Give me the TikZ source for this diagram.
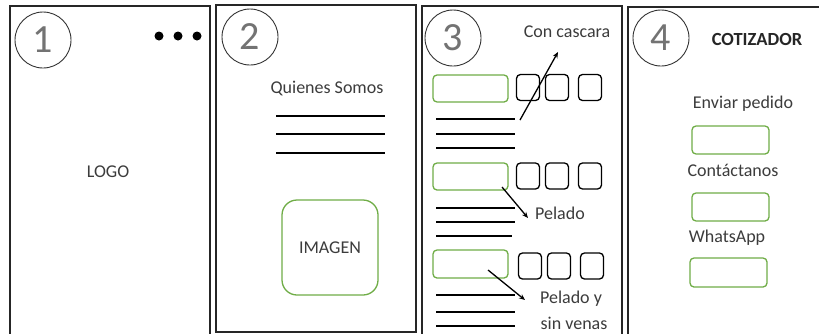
\documentclass[tikz,border=0pt]{standalone}
\usepackage{fontspec}
\setmainfont{Carlito}
\usetikzlibrary{arrows.meta}
\definecolor{okgreen}{RGB}{112,173,71}
\definecolor{txt}{RGB}{60,60,60}
\begin{document}
\begin{tikzpicture}[x=1pt,y=-1pt,
 panel/.style={draw=black!85, line width=1.5pt},
 num/.style={circle, draw=black!80, line width=0.9pt, minimum size=56pt, inner sep=0pt, font=\fontsize{40}{40}\selectfont, text=black!55},
 lbl/.style={font=\fontsize{18}{20}\selectfont, text=txt, inner sep=0pt},
 gbox/.style={draw=okgreen, line width=1.3pt, rounded corners=4pt, inner sep=0pt},
 sq/.style={draw=black, line width=1.3pt, rounded corners=4pt, inner sep=0pt, minimum width=23pt, minimum height=26pt},
 rule/.style={line width=1.3pt},
 dotn/.style={circle, fill=black, inner sep=0pt, minimum size=9pt},
 arr/.style={line width=1.3pt, -{Stealth[length=6pt,width=5pt]}}]
\useasboundingbox (0,0) rectangle (819,333);
\clip (0,0) rectangle (819,333);
\fill[white] (0,0) rectangle (819,333);

% panels
\draw[panel] (10,345) -- (10,6) -- (210,6) -- (210,345);
\draw[panel] (216,5) rectangle (416,332);
\draw[panel] (422,345) -- (422,6) -- (622,6) -- (622,345);
\draw[panel] (628,345) -- (628,7) -- (830,7);

% numbered circles
\node[num] (n1) at (43,40) {1};
\node[num] (n2) at (250,37) {2};
\node[num] (n3) at (453,38) {3};
\node[num] (n4) at (661,38) {4};

% panel 1
\node[dotn] (d1) at (159,36) {};
\node[dotn] (d2) at (178,36) {};
\node[dotn] (d3) at (197,36) {};
\node[lbl] (logo) at (108,172) {LOGO};

% panel 2
\node[lbl] (quienes) at (327,88) {Quienes Somos};
\draw[rule] (276,116) -- (385,116);
\draw[rule] (276,134) -- (385,134);
\draw[rule] (276,153) -- (385,153);
\node[lbl, draw=okgreen, line width=1.3pt, rounded corners=15pt, minimum width=96pt, minimum height=95pt] (imagen) at (330,247.5) {IMAGEN};

% panel 3
\node[lbl] (concascara) at (567,32) {Con cascara};
\node[gbox, minimum width=75pt, minimum height=27pt] (g1) at (470.5,88.5) {};
\node[gbox, minimum width=75pt, minimum height=27pt] (g2) at (470.5,176.5) {};
\node[gbox, minimum width=75pt, minimum height=28pt] (g3) at (470.5,264) {};
\node[sq] (s11) at (528,87.5) {};
\node[sq] (s12) at (557,87.5) {};
\node[sq] (s13) at (590,87.5) {};
\node[sq] (s21) at (528,176) {};
\node[sq] (s22) at (557,176) {};
\node[sq] (s23) at (590,176) {};
\node[sq] (s31) at (530,266) {};
\node[sq] (s32) at (559,266) {};
\node[sq] (s33) at (592,266) {};
\draw[rule] (436,119) -- (515,119);
\draw[rule] (436,134) -- (515,134);
\draw[rule] (436,148) -- (515,148);
\draw[rule] (436,208) -- (515,208);
\draw[rule] (436,222) -- (515,222);
\draw[rule] (436,236) -- (512,236);
\draw[rule] (436,295) -- (515,295);
\draw[rule] (436,312) -- (515,312);
\draw[rule] (436,326) -- (515,326);
\coordinate (a1s) at (520,120);
\coordinate (a1e) at (558,52);
\coordinate (a2s) at (502,187);
\coordinate (a2e) at (528,218);
\coordinate (a3s) at (488,270);
\coordinate (a3e) at (525,300);
\draw[arr] (a1s) -- (a1e);
\draw[arr] (a2s) -- (a2e);
\draw[arr] (a3s) -- (a3e);
\node[lbl, anchor=west] (pelado) at (535,213) {Pelado};
\node[lbl] (pelado2) at (571,299) {Pelado y};
\node[lbl] (sinvenas) at (574,323) {sin venas};

% panel 4
\node[lbl, font=\fontsize{18.5}{20}\selectfont\bfseries, text=black!85] (cotizador) at (757,39) {COTIZADOR};
\node[lbl] (enviar) at (743,104) {Enviar pedido};
\node[gbox, minimum width=77pt, minimum height=28pt] (b1) at (730.5,140) {};
\node[lbl] (contact) at (733,170) {Contáctanos};
\node[gbox, minimum width=77pt, minimum height=28pt] (b2) at (730.5,207) {};
\node[lbl] (whats) at (727,238) {WhatsApp};
\node[gbox, minimum width=77pt, minimum height=29pt] (b3) at (728.5,272.5) {};
\end{tikzpicture}
\end{document}
